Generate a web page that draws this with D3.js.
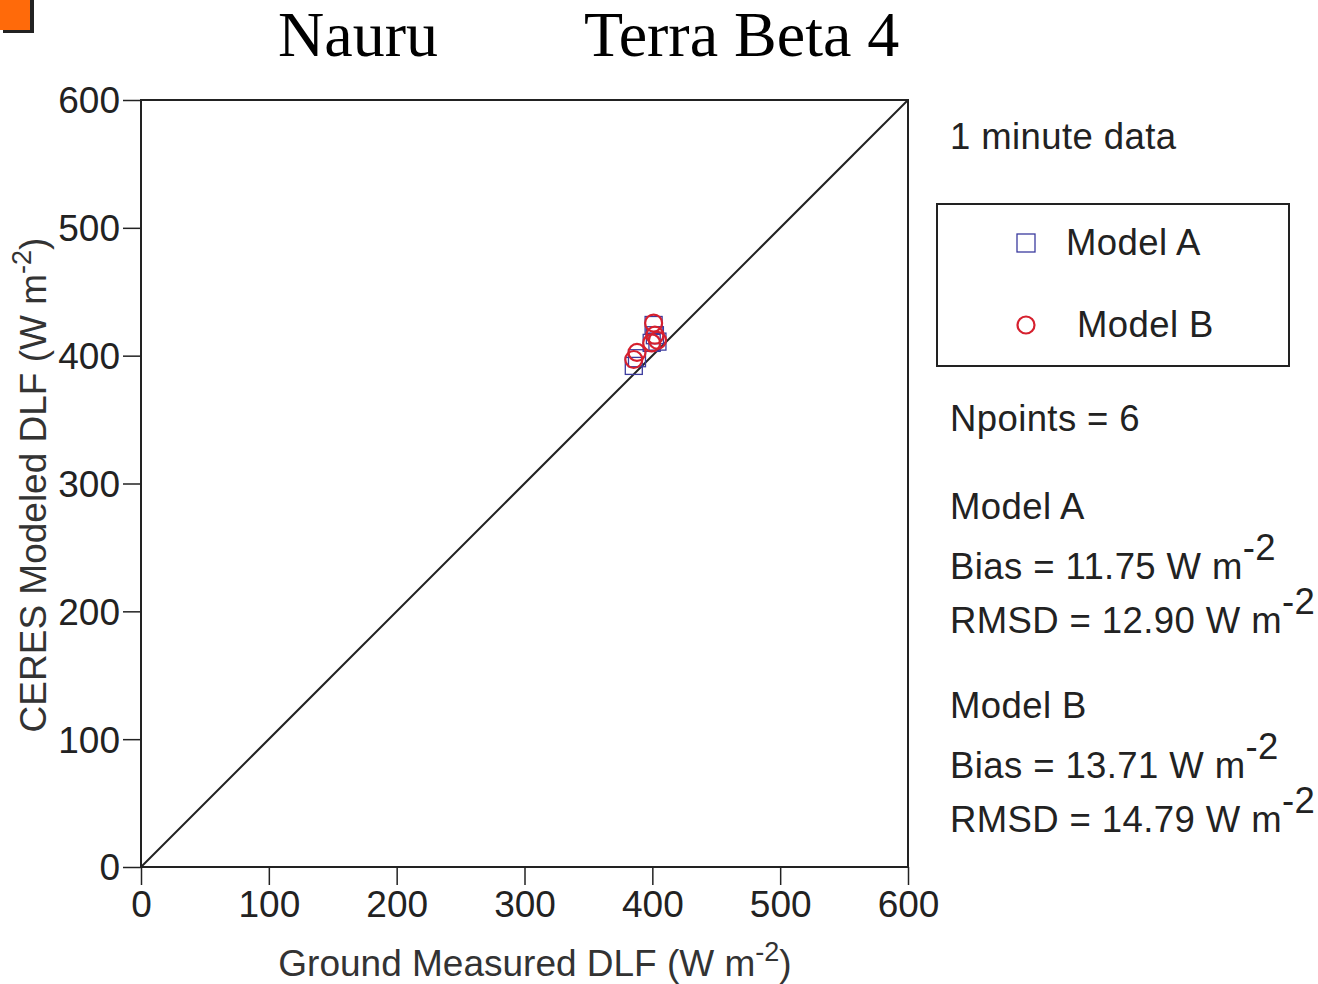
<!DOCTYPE html>
<html><head><meta charset="utf-8">
<script src="https://cdn.jsdelivr.net/npm/d3@7"></script>
<style>body{margin:0;background:#fff}svg{display:block}text{font-family:"Liberation Sans",Arial,sans-serif}</style>
</head><body>
<svg id="c" width="1318" height="984"></svg>
<script>
const ground = [401, 399.5, 404, 388, 385.5, 402];
const modelA = [424, 410, 411, 398, 392, 416];
const modelB = [425.5, 410, 412, 402.5, 397, 416];
const ticks = [0, 100, 200, 300, 400, 500, 600];
const statsA = {bias: "11.75", rmsd: "12.90"};
const statsB = {bias: "13.71", rmsd: "14.79"};

const svg = d3.select("#c");
const x = d3.scaleLinear().domain([0, 600]).range([141, 908]);
const y = d3.scaleLinear().domain([0, 600]).range([867, 100]);

// orange marker
svg.append("rect").attr("x", 3).attr("y", -3).attr("width", 31).attr("height", 36).attr("fill", "#222");
svg.append("rect").attr("x", 0).attr("y", -3).attr("width", 30).attr("height", 33).attr("fill", "#ff6a0a");

// titles
svg.append("text").attr("x", 278).attr("y", 56)
  .style("font-family", "Liberation Serif, serif").attr("font-size", 64).text("Nauru");
svg.append("text").attr("x", 584).attr("y", 56)
  .style("font-family", "Liberation Serif, serif").attr("font-size", 64).text("Terra Beta 4");

// frame
svg.append("rect").attr("x", x(0)).attr("y", y(600)).attr("width", x(600) - x(0)).attr("height", y(0) - y(600))
  .attr("fill", "none").attr("stroke", "#222").attr("stroke-width", 2);

// axes
const gx = svg.append("g").attr("transform", `translate(0,${y(0)})`)
  .call(d3.axisBottom(x).tickValues(ticks).tickSize(18).tickPadding(4));
const gy = svg.append("g").attr("transform", `translate(${x(0)},0)`)
  .call(d3.axisLeft(y).tickValues(ticks).tickSize(18).tickPadding(3));
[gx, gy].forEach(g => {
  g.select(".domain").remove();
  g.selectAll(".tick line").attr("stroke", "#222").attr("stroke-width", 1.5);
  g.selectAll(".tick text").attr("font-size", 37).attr("fill", "#222")
   .style("font-family", "Liberation Sans, Arial, sans-serif");
});
gy.selectAll(".tick text").attr("dy", "0.35em");
gx.selectAll(".tick text").attr("dy", "0.75em");

// 1:1 line
svg.append("line").attr("x1", x(0)).attr("y1", y(0)).attr("x2", x(600)).attr("y2", y(600))
  .attr("stroke", "#222").attr("stroke-width", 2);

// data
const s = 17;
svg.append("g").selectAll("rect").data(ground).join("rect")
  .attr("x", (d, i) => x(d) - s / 2).attr("y", (d, i) => y(modelA[i]) - s / 2)
  .attr("width", s).attr("height", s).attr("fill", "none").attr("stroke", "#3b3b9e").attr("stroke-width", 1.3);
svg.append("g").selectAll("circle").data(ground).join("circle")
  .attr("cx", d => x(d)).attr("cy", (d, i) => y(modelB[i])).attr("r", 8.5)
  .attr("fill", "none").attr("stroke", "#d6202e").attr("stroke-width", 2.2);

// axis labels
const xl = svg.append("text").attr("x", 535).attr("y", 976).attr("text-anchor", "middle")
  .attr("font-size", 37).attr("fill", "#333");
xl.append("tspan").text("Ground Measured DLF (W m");
xl.append("tspan").attr("dy", -15).attr("font-size", 27).text("-2");
xl.append("tspan").attr("dy", 15).text(")");

const yl = svg.append("text").attr("transform", "translate(46,485) rotate(-90)").attr("text-anchor", "middle")
  .attr("font-size", 37).attr("fill", "#333");
yl.append("tspan").text("CERES Modeled DLF (W m");
yl.append("tspan").attr("dy", -15).attr("font-size", 27).text("-2");
yl.append("tspan").attr("dy", 15).text(")");

// right panel
const fs = 36.5;
function txt(xp, yp, t) {
  return svg.append("text").attr("x", xp).attr("y", yp).attr("font-size", fs).attr("fill", "#222")
    .attr("letter-spacing", 0.4).text(t);
}
txt(950, 149, "1 minute data");
svg.append("rect").attr("x", 937).attr("y", 204).attr("width", 352).attr("height", 162)
  .attr("fill", "none").attr("stroke", "#222").attr("stroke-width", 2);
svg.append("rect").attr("x", 1017).attr("y", 234).attr("width", 18).attr("height", 18)
  .attr("fill", "none").attr("stroke", "#3b3b9e").attr("stroke-width", 1.3);
txt(1066, 255, "Model A");
svg.append("circle").attr("cx", 1026).attr("cy", 325).attr("r", 8.5)
  .attr("fill", "none").attr("stroke", "#d6202e").attr("stroke-width", 2.2);
txt(1077, 337, "Model B");
txt(950, 431, "Npoints = " + ground.length);

function stat(y0, name, st) {
  txt(950, y0, name);
  const b = txt(950, y0 + 60, "Bias = " + st.bias + " W m");
  b.append("tspan").attr("dy", -19).text("-2");
  const r = txt(950, y0 + 114, "RMSD = " + st.rmsd + " W m");
  r.append("tspan").attr("dy", -19).text("-2");
}
stat(519, "Model A", statsA);
stat(718, "Model B", statsB);
</script>
</body></html>
